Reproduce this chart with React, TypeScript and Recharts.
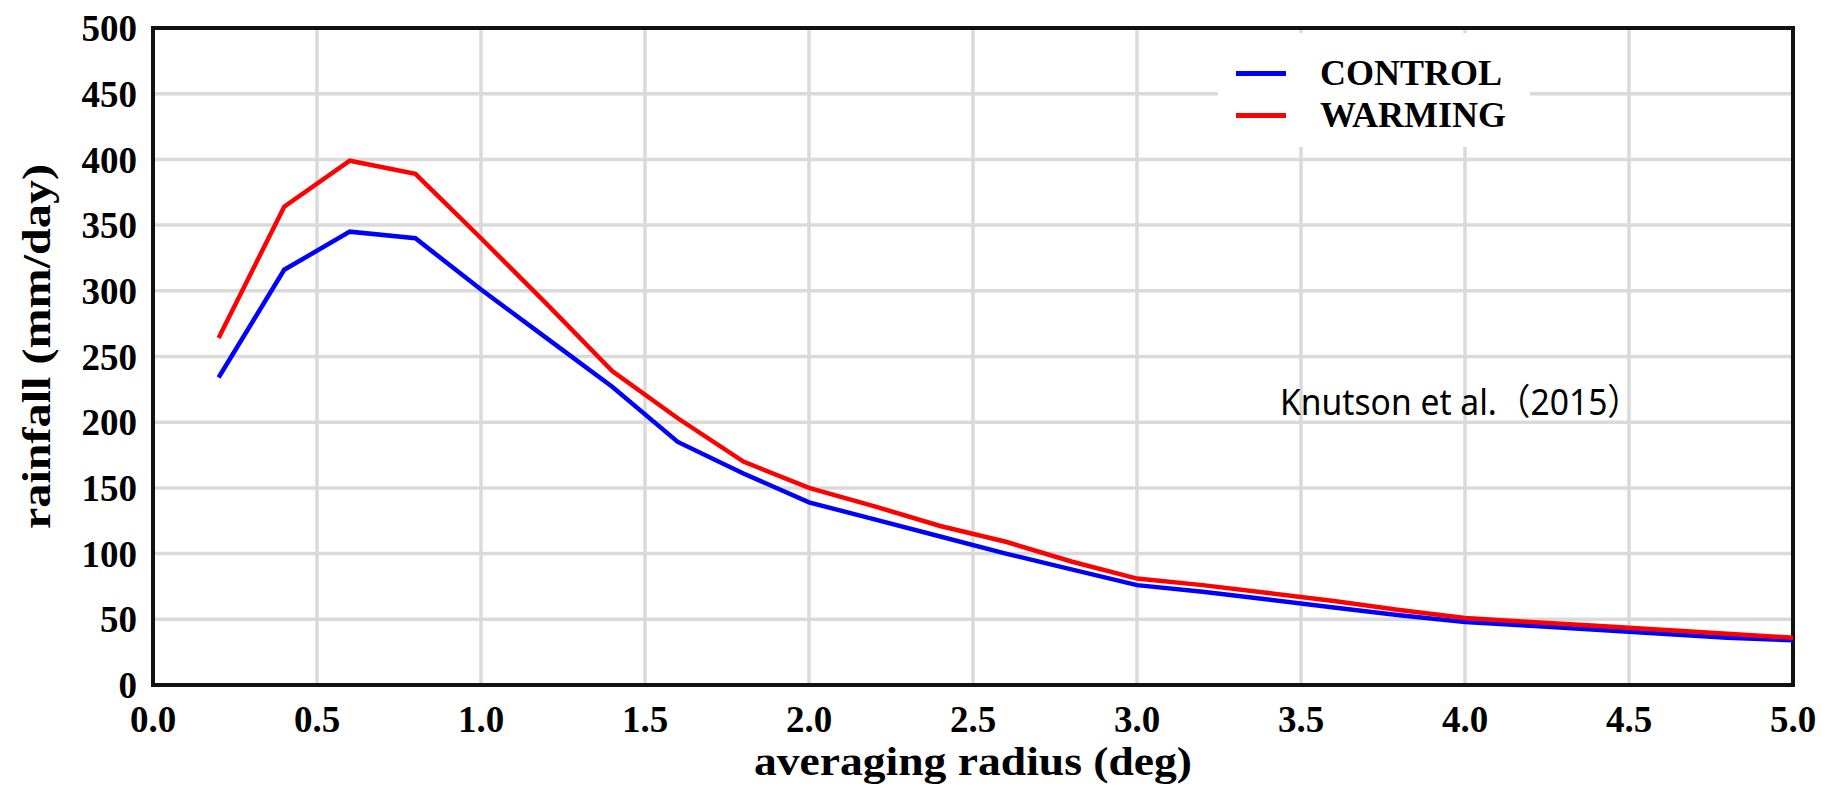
import React from "react";
import {
  LineChart,
  Line,
  XAxis,
  YAxis,
  CartesianGrid,
  Legend,
  ReferenceArea,
} from "recharts";

// averaging radius (deg)
const radius = [
  0.2, 0.4, 0.6, 0.8, 1.0, 1.2, 1.4, 1.6, 1.8, 2.0, 2.2, 2.4, 2.6, 2.8, 3.0,
  3.2, 3.4, 3.6, 3.8, 4.0, 4.2, 4.4, 4.6, 4.8, 5.0,
];

// rainfall (mm/day)
const control = [
  234, 316, 345, 340, 301, 264, 227, 185, 161, 139, 126, 113, 100, 88, 76, 71,
  65, 59, 53, 48, 45, 42, 39, 36, 34,
];
const warming = [
  264, 364, 399, 389, 340, 290, 239, 203, 170, 150, 136, 121, 109, 94, 81, 76,
  70, 64, 57, 51, 48, 45, 42, 39, 36,
];

const xTicks = [0, 0.5, 1, 1.5, 2, 2.5, 3, 3.5, 4, 4.5, 5];
const yTicks = [0, 50, 100, 150, 200, 250, 300, 350, 400, 450, 500];

const data = radius.map((r, i) => ({
  r,
  control: control[i],
  warming: warming[i],
}));

const SERIF = "'Liberation Serif', 'Times New Roman', serif";
const tickStyle = { fontSize: 37, fontWeight: 700, fill: "#000", fontFamily: SERIF };

const XTitle = ({ viewBox }: any) => {
  const { x, y, width } = viewBox;
  return (
    <text
      x={x + width / 2}
      y={y + 90}
      textAnchor="middle"
      textLength={438}
      lengthAdjust="spacingAndGlyphs"
      fontFamily={SERIF}
      fontWeight={700}
      fontSize={40}
      fill="#000"
    >
      averaging radius (deg)
    </text>
  );
};

const YTitle = ({ viewBox }: any) => {
  const { y, height } = viewBox;
  const cx = 50;
  const cy = y + height / 2 - 10;
  return (
    <text
      x={cx}
      y={cy}
      transform={`rotate(-90, ${cx}, ${cy})`}
      textAnchor="middle"
      textLength={365}
      lengthAdjust="spacingAndGlyphs"
      fontFamily={SERIF}
      fontWeight={700}
      fontSize={40}
      fill="#000"
    >
      rainfall (mm/day)
    </text>
  );
};

const LegendBox = ({ payload }: any) => (
  <div style={{ paddingTop: 19 }}>
    {(payload || []).map((p: any) => (
      <div
        key={p.value}
        style={{ display: "flex", alignItems: "center", height: 42 }}
      >
        <div
          style={{ marginLeft: 18, width: 50, height: 5, background: p.color }}
        />
        <span
          style={{
            marginLeft: 34,
            fontFamily: SERIF,
            fontWeight: 700,
            fontSize: 36,
            lineHeight: "42px",
            color: "#000",
          }}
        >
          {p.value}
        </span>
      </div>
    ))}
  </div>
);

export default function App() {
  return (
    <div
      style={{
        position: "absolute",
        left: 0,
        top: 0,
        width: 1825,
        height: 788,
        background: "#fff",
      }}
    >
      <LineChart
        width={1825}
        height={788}
        data={data}
        margin={{ top: 28, right: 32, bottom: 0, left: 0 }}
      >
        <CartesianGrid stroke="#dadada" strokeWidth={3.5} />
        <XAxis
          type="number"
          dataKey="r"
          domain={[0, 5]}
          ticks={xTicks}
          interval={0}
          tickFormatter={(v) => Number(v).toFixed(1)}
          height={103}
          tickSize={0}
          tickMargin={21}
          tickLine={false}
          axisLine={false}
          tick={tickStyle}
          label={<XTitle />}
        />
        <YAxis
          type="number"
          domain={[0, 500]}
          ticks={yTicks}
          interval={0}
          width={153}
          tickSize={0}
          tickMargin={16}
          tickLine={false}
          axisLine={false}
          tick={tickStyle}
          label={<YTitle />}
        />
        <Line
          type="linear"
          dataKey="control"
          name="CONTROL"
          stroke="#0000ff"
          strokeWidth={4.5}
          dot={false}
          isAnimationActive={false}
        />
        <Line
          type="linear"
          dataKey="warming"
          name="WARMING"
          stroke="#ff0000"
          strokeWidth={4.5}
          dot={false}
          isAnimationActive={false}
        />
        <ReferenceArea
          x1={0}
          x2={5}
          y1={0}
          y2={500}
          fill="none"
          fillOpacity={0}
          stroke="#111"
          strokeWidth={4}
        />
        <Legend
          layout="horizontal"
          verticalAlign="middle"
          align="center"
          content={<LegendBox />}
          wrapperStyle={{
            left: 1218,
            top: 33,
            width: 312,
            height: 114,
            background: "#fff",
          }}
        />
      </LineChart>
      <svg
        width={1825}
        height={788}
        style={{ position: "absolute", left: 0, top: 0, pointerEvents: "none" }}
      >
        <text
          x={1280}
          y={415}
          textLength={361}
          lengthAdjust="spacingAndGlyphs"
          fontFamily="'Noto Sans', 'Noto Sans CJK SC', sans-serif"
          fontSize={36}
          fill="#000"
        >
          Knutson et al.（2015）
        </text>
      </svg>
    </div>
  );
}
